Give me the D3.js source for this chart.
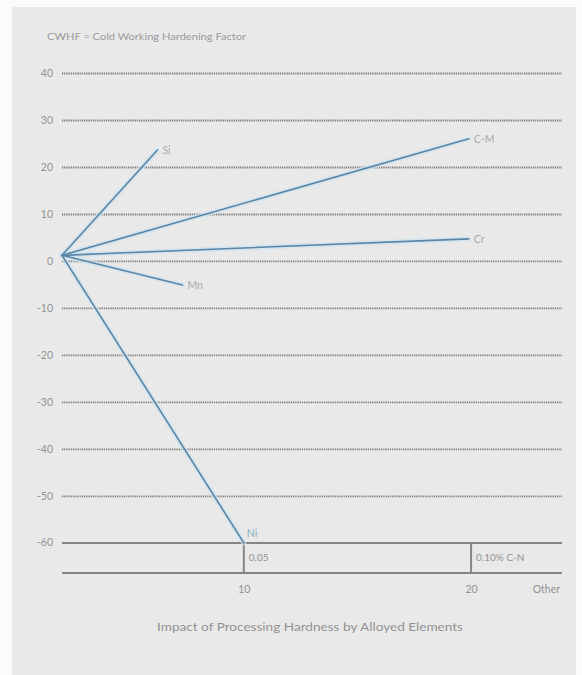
<!DOCTYPE html>
<html>
<head>
<meta charset="utf-8">
<script src="https://cdn.jsdelivr.net/npm/d3@7"></script>
<style>
  html, body { margin: 0; padding: 0; background: #fbfbfb; }
  svg { display: block; }
  text { font-family: Lato, "Open Sans", sans-serif; }
</style>
</head>
<body>
<svg id="chart" width="582" height="675"></svg>
<script>
// ---- data ----
const elements = ["Si", "C-M", "Cr", "Mn", "Ni"];
const endX = [6.2, 19.9, 19.9, 7.3, 10];
const endY = [23.6, 26, 4.7, -5.1, -60];
const originX = 2;
const originY = 1.2;
const yTicks = [40, 30, 20, 10, 0, -10, -20, -30, -40, -50, -60];
const xTicks = [10, 20];
const xTickLabels = ["10", "20"];
const tableDividers = [10, 20];
const tableLabels = ["0.05", "0.10% C-N"];
const headerText = "CWHF = Cold Working Hardening Factor";
const titleText = "Impact of Processing Hardness by Alloyed Elements";
const otherLabel = "Other";

// ---- layout ----
const svg = d3.select("#chart");
svg.append("rect").attr("x", 12).attr("y", 7).attr("width", 564).attr("height", 668).attr("fill", "#e9e9e9");

const x = d3.scaleLinear().domain([2, 24]).range([62, 562]);
const y = d3.scaleLinear().domain([-66.4, 40]).range([573, 73]);
const yBottom = -66.4;

const textColor = "#929292";

// header
svg.append("text").attr("x", 47).attr("y", 40).attr("font-size", 9)
  .attr("fill", "#9a9a9a").attr("textLength", 199).attr("lengthAdjust", "spacingAndGlyphs")
  .text(headerText);

// y axis (dotted gridlines)
const yAxis = d3.axisLeft(y).tickValues(yTicks.filter(d => d !== -60)).tickSize(-(x(24) - x(2))).tickFormat(d => String(d));
const gy = svg.append("g").attr("transform", `translate(${x(2)},0)`).call(yAxis);
gy.select(".domain").remove();
gy.selectAll(".tick line").attr("stroke", "#7e7e7e").attr("stroke-width", 1.8).attr("stroke-dasharray", "1.3,0.9");
gy.selectAll(".tick text").attr("x", -9).attr("font-size", 10.5).attr("fill", textColor);

// -60 label
svg.append("text").attr("x", x(2) - 9).attr("y", y(-60)).attr("dy", "0.32em")
  .attr("text-anchor", "end").attr("font-size", 10.5).attr("fill", textColor).text("-60");

// solid table lines
[-60, yBottom].forEach(v => {
  svg.append("line").attr("x1", x(2)).attr("x2", x(24)).attr("y1", y(v)).attr("y2", y(v))
    .attr("stroke", "#858585").attr("stroke-width", 2);
});
tableDividers.forEach((v, i) => {
  svg.append("line").attr("x1", x(v)).attr("x2", x(v)).attr("y1", y(-60)).attr("y2", y(yBottom))
    .attr("stroke", "#858585").attr("stroke-width", 2);
  svg.append("text").attr("x", x(v) + 5).attr("y", (y(-60) + y(yBottom)) / 2).attr("dy", "0.35em")
    .attr("font-size", 10).attr("fill", textColor).text(tableLabels[i]);
});

// x axis ticks
const xAxis = d3.axisBottom(x).tickValues(xTicks).tickSize(0).tickFormat((d, i) => xTickLabels[i]);
const gx = svg.append("g").attr("transform", `translate(0,${y(yBottom) + 10})`).call(xAxis);
gx.select(".domain").remove();
gx.selectAll(".tick text").attr("font-size", 10.5).attr("fill", textColor);
svg.append("text").attr("x", x(24) - 2).attr("y", y(yBottom) + 20).attr("text-anchor", "end")
  .attr("font-size", 10.5).attr("fill", textColor).text(otherLabel);

// lines
const data = elements.map((e, i) => ({ name: e, x: endX[i], y: endY[i] }));
svg.append("g").selectAll("line.glow").data(data).join("line")
  .attr("x1", x(originX)).attr("y1", y(originY)).attr("x2", d => x(d.x)).attr("y2", d => y(d.y))
  .attr("stroke", "#cfe3f0").attr("stroke-width", 5).attr("stroke-linecap", "round").attr("opacity", 0.7);
svg.append("g").selectAll("line.main").data(data).join("line")
  .attr("x1", x(originX)).attr("y1", y(originY)).attr("x2", d => x(d.x)).attr("y2", d => y(d.y))
  .attr("stroke", "#5985a6").attr("stroke-width", 1.6).attr("stroke-linecap", "round");

// labels
svg.append("g").selectAll("text").data(data).join("text")
  .attr("x", d => d.name === "Ni" ? x(d.x) + 3 : x(d.x) + 5)
  .attr("y", d => d.name === "Ni" ? y(d.y) - 6 : y(d.y) + 4)
  .attr("font-size", 10.5)
  .attr("fill", d => d.name === "Ni" ? "#86b5c4" : "#a9a9a9")
  .text(d => d.name);

// title
svg.append("text").attr("x", 310).attr("y", 631).attr("text-anchor", "middle")
  .attr("font-size", 11).attr("fill", textColor).attr("textLength", 306).attr("lengthAdjust", "spacingAndGlyphs")
  .text(titleText);
</script>
</body>
</html>
